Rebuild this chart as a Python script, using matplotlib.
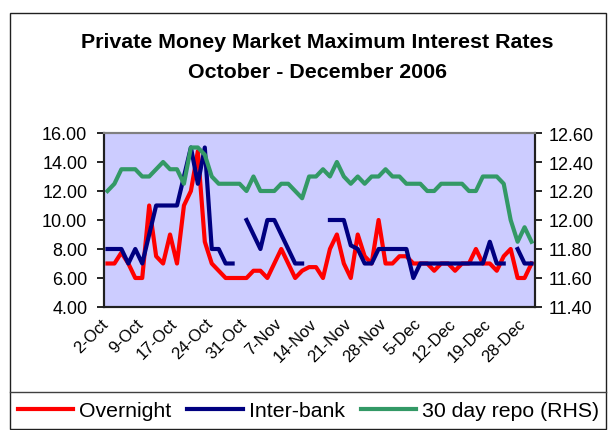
import numpy as np
import matplotlib
matplotlib.use("Agg")
import matplotlib.pyplot as plt
from matplotlib.patches import Rectangle
from matplotlib.lines import Line2D
from matplotlib.ticker import FormatStrFormatter
from matplotlib.transforms import ScaledTranslation

plt.rcParams['font.family'] = ['Liberation Sans', 'DejaVu Sans']

# trading days, Oct-Dec 2006 (one category per day, labels every 5th day)
N_DAYS = 62
tick_dates = ["2-Oct", "9-Oct", "17-Oct", "24-Oct", "31-Oct", "7-Nov", "14-Nov",
              "21-Nov", "28-Nov", "5-Dec", "12-Dec", "19-Dec", "28-Dec"]

nan = np.nan

overnight = [7.0, 7.0, 7.75, 7.0, 6.0, 6.0, 11.0, 7.5, 7.0, 9.0,
             7.0, 11.0, 12.0, 14.75, 8.5, 7.0, 6.5, 6.0, 6.0, 6.0,
             6.0, 6.5, 6.5, 6.0, 7.0, 8.0, 7.0, 6.0, 6.5, 6.75,
             6.75, 6.0, 8.0, 9.0, 7.0, 6.0, 9.0, 7.5, 7.0, 10.0,
             7.0, 7.0, 7.5, 7.5, 7.0, 7.0, 7.0, 6.5, 7.0, 7.0,
             6.5, 7.0, 7.0, 8.0, 7.0, 7.0, 6.5, 7.5, 8.0, 6.0,
             6.0, 7.0]

interbank = [8.0, 8.0, 8.0, 7.0, 8.0, 7.0, 9.0, 11.0, 11.0, 11.0,
             11.0, 13.0, 15.0, 12.5, 15.0, 8.0, 8.0, 7.0, 7.0, nan,
             10.0, 9.0, 8.0, 10.0, 10.0, 9.0, 8.0, 7.0, 7.0, nan,
             nan, nan, 10.0, 10.0, 10.0, 8.25, 8.0, 7.0, 7.0, 8.0,
             8.0, 8.0, 8.0, 8.0, 6.0, 7.0, 7.0, 7.0, 7.0, 7.0,
             7.0, 7.0, 7.0, 7.0, 7.0, 8.5, 7.0, 7.0, nan, 8.0,
             7.0, 7.0]

repo_30d = [12.20, 12.25, 12.35, 12.35, 12.35, 12.30, 12.30, 12.35, 12.40, 12.35,
            12.35, 12.25, 12.50, 12.50, 12.45, 12.30, 12.25, 12.25, 12.25, 12.25,
            12.20, 12.30, 12.20, 12.20, 12.20, 12.25, 12.25, 12.20, 12.15, 12.30,
            12.30, 12.35, 12.30, 12.40, 12.30, 12.25, 12.30, 12.25, 12.30, 12.30,
            12.35, 12.30, 12.30, 12.25, 12.25, 12.25, 12.20, 12.20, 12.25, 12.25,
            12.25, 12.25, 12.20, 12.20, 12.30, 12.30, 12.30, 12.25, 12.00, 11.85,
            11.95, 11.85]

W, H = 608, 431


def fx(px):
    return px / W


def fy(py):
    return 1 - py / H


fig = plt.figure(figsize=(W / 100, H / 100), dpi=100)

# plot area in pixel coords: x 104..535, y 134..308
ax = fig.add_axes([fx(104), fy(308), (535 - 104) / W, (308 - 134) / H])
ax.set_facecolor('#CCCCFF')

x = np.arange(N_DAYS)
l1, = ax.plot(x, overnight, color='#FF0000', lw=3, label='Overnight')
l2, = ax.plot(x, interbank, color='#000080', lw=3, label='Inter-bank')

ax2 = ax.twinx()
l3, = ax2.plot(x, repo_30d, color='#339966', lw=3, label='30 day repo (RHS)')

ax.set_xlim(-0.5, N_DAYS - 0.5)
ax.set_ylim(4, 16)
ax2.set_ylim(11.4, 12.6)
ax.set_yticks(np.arange(4, 16.01, 2))
ax2.set_yticks(np.arange(11.4, 12.61, 0.2))
ax.yaxis.set_major_formatter(FormatStrFormatter('%.2f'))
ax2.yaxis.set_major_formatter(FormatStrFormatter('%.2f'))

ax.set_xticks(np.arange(0, 5 * len(tick_dates), 5))
ax.set_xticklabels(tick_dates, rotation=45, ha='right', rotation_mode='anchor')
ax.tick_params(axis='x', length=0, labelsize=12, pad=6)
ax.tick_params(axis='y', direction='out', length=5, width=1.2, labelsize=13, pad=7)
ax2.tick_params(axis='y', direction='out', length=5, width=1.2, labelsize=13, pad=5)

# nudge the date labels a little left of their category
shift = ScaledTranslation(-0.07, 0, fig.dpi_scale_trans)
for lab in ax.get_xticklabels():
    lab.set_transform(lab.get_transform() + shift)

for a in (ax, ax2):
    for side in ('left', 'right', 'bottom'):
        a.spines[side].set_color('#202020')
        a.spines[side].set_linewidth(1.5)
    a.spines['top'].set_color('#808080')
    a.spines['top'].set_linewidth(1.5)

fig.text(fx(317), fy(42), 'Private Money Market Maximum Interest Rates',
         ha='center', va='center', fontsize=15.4, fontweight='bold')
fig.text(fx(317), fy(72), 'October - December 2006',
         ha='center', va='center', fontsize=15.4, fontweight='bold')

# chart border and legend strip
fig.add_artist(Rectangle((fx(10), fy(430)), (606 - 10) / W, (430 - 14) / H,
                         transform=fig.transFigure, fill=False,
                         edgecolor='#202020', lw=1))
fig.add_artist(Line2D([fx(10), fx(606)], [fy(393), fy(393)],
                      transform=fig.transFigure, color='#404040', lw=1))

fig.legend(handles=[l1, l2, l3], loc='center left',
           bbox_to_anchor=(fx(18), fy(412)), ncol=3, frameon=False,
           fontsize=15.3, handlelength=2.6, handletextpad=0.28,
           columnspacing=0.75, borderaxespad=0, borderpad=0)

fig.savefig('out.png', dpi=100)
